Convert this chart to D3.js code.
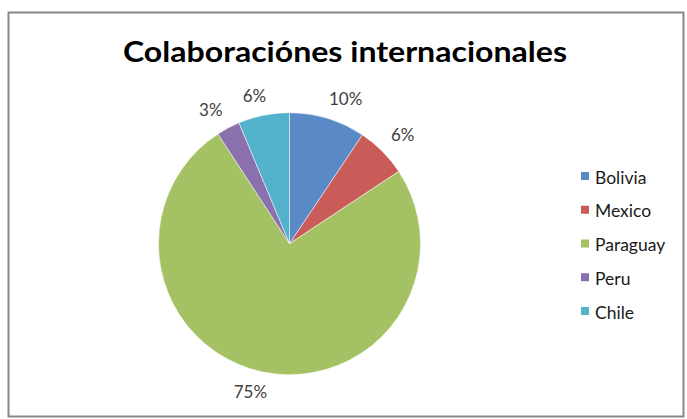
<!DOCTYPE html>
<html>
<head>
<meta charset="utf-8">
<script src="https://cdn.jsdelivr.net/npm/d3@7"></script>
<style>
  html, body { margin: 0; padding: 0; background: #fff; }
  svg { display: block; }
</style>
</head>
<body>
<svg id="chart" width="687" height="419"></svg>
<script>
// ---- data ----
const categories = ["Bolivia", "Mexico", "Paraguay", "Peru", "Chile"];
const values = [9.4, 6.3, 75.1, 2.9, 6.3];
const percentLabels = ["10%", "6%", "75%", "3%", "6%"];
const title = "Colaboraciónes internacionales";

// ---- styles / layout ----
const colors = ["#5a8ac6", "#c95c58", "#a4c263", "#8a70ac", "#52b2cc"];
const cx = 289.5, cy = 243.7, R = 131;
const FONT = "Lato, 'Open Sans', sans-serif";

const svg = d3.select("#chart");

// frame
svg.append("rect")
  .attr("x", 8.5).attr("y", 12.5)
  .attr("width", 675).attr("height", 404)
  .attr("fill", "#fff")
  .attr("stroke", "#878787")
  .attr("stroke-width", 2);

// title
svg.append("text")
  .attr("x", 345).attr("y", 62)
  .attr("text-anchor", "middle")
  .attr("font-family", FONT)
  .attr("font-weight", "bold")
  .attr("font-size", 29)
  .attr("fill", "#000")
  .attr("textLength", 444)
  .attr("lengthAdjust", "spacingAndGlyphs")
  .text(title);

const color = d3.scaleOrdinal().domain(categories).range(colors);

const data = categories.map((c, i) => ({ cat: c, value: values[i], label: percentLabels[i] }));
const pie = d3.pie().value(d => d.value).sort(null);
const arcs = pie(data);
const arc = d3.arc().innerRadius(0).outerRadius(R);

const g = svg.append("g").attr("transform", `translate(${cx},${cy})`);
g.selectAll("path.slice")
  .data(arcs)
  .enter().append("path")
  .attr("class", "slice")
  .attr("d", arc)
  .attr("fill", d => color(d.data.cat))
  .attr("stroke", "#fff")
  .attr("stroke-width", 0.5);

// data labels (outside end, Excel-like)
const labelR = R + 12;
const clamp = (v) => Math.max(-1, Math.min(1, v));
g.selectAll("text.lbl")
  .data(arcs)
  .enter().append("text")
  .attr("class", "lbl")
  .attr("font-family", FONT)
  .attr("font-size", 17)
  .attr("fill", "#404040")
  .attr("text-anchor", "middle")
  .attr("dominant-baseline", "central")
  .text(d => d.data.label)
  .each(function(d) {
    const a = (d.startAngle + d.endAngle) / 2;
    const s = Math.sin(a), c = Math.cos(a);
    const w = this.getComputedTextLength();
    const h = 16;
    const px = labelR * s, py = -labelR * c;
    const x = px + (w / 2) * clamp(3 * s);
    const y = py - (h / 2) * clamp(3 * c);
    d3.select(this).attr("x", x).attr("y", y);
  });

// legend
const legendY = d3.scalePoint().domain(categories).range([176, 311]);
const lg = svg.append("g");
const items = lg.selectAll("g.item")
  .data(categories)
  .enter().append("g")
  .attr("class", "item")
  .attr("transform", d => `translate(581,${legendY(d)})`);
items.append("rect")
  .attr("x", 0).attr("y", -4)
  .attr("width", 8).attr("height", 8)
  .attr("fill", d => color(d));
items.append("text")
  .attr("x", 14).attr("y", 1)
  .attr("dominant-baseline", "central")
  .attr("font-family", FONT)
  .attr("font-size", 17.5)
  .attr("fill", "#1a1a1a")
  .text(d => d);
</script>
</body>
</html>
